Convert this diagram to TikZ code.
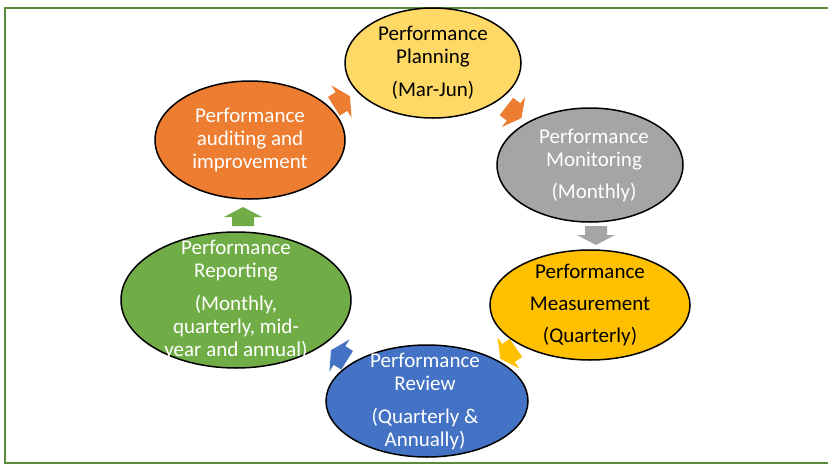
\documentclass[tikz,border=0pt]{standalone}
\usepackage{fontspec}
\setmainfont{Carlito}
\usetikzlibrary{calc,shapes.geometric}
\definecolor{cYellow}{HTML}{FFD966}
\definecolor{cGray}{HTML}{A5A5A5}
\definecolor{cGold}{HTML}{FFC000}
\definecolor{cBlue}{HTML}{4472C4}
\definecolor{cGreen}{HTML}{70AD47}
\definecolor{cOrange}{HTML}{ED7D31}
\definecolor{frameC}{HTML}{5A8A3C}
\begin{document}
\begin{tikzpicture}[x=1pt,y=-1pt,
  stage/.style={ellipse, draw=black, line width=1.5pt, inner sep=0pt},
  stagetext/.style={inner sep=0pt, align=center, font=\fontsize{21}{23}\selectfont},
  pics/cycarrow/.style={code={\fill[#1] (-9,-11) -- (0,-11) -- (0,-19) -- (10,0) -- (0,19) -- (0,11) -- (-9,11) -- cycle;}}
]
\useasboundingbox (0,0) rectangle (828,464);
\fill[white] (0,0) rectangle (828,464);
\draw[frameC, line width=2pt] (840,7.5) -- (4.5,7.5) -- (4.5,462.5) -- (840,462.5);

\node[stage, fill=cYellow, minimum width=176, minimum height=110] (plan) at (433,63) {};
\node[stagetext] (plant) at (plan) {Performance\\Planning\\[10pt](Mar-Jun)};
\node[stage, fill=cGray, minimum width=186, minimum height=114] (mon) at (590,165) {};
\node[stagetext, text=white] (mont) at ($(mon)+(4,0)$) {Performance\\Monitoring\\[9pt](Monthly)};
\node[stage, fill=cGold, minimum width=200, minimum height=110] (meas) at (590,305) {};
\node[stagetext] (meast) at (meas) {Performance\\[9pt]Measurement\\[9pt](Quarterly)};
\node[stage, fill=cBlue, minimum width=202, minimum height=112] (rev) at (427,401) {};
\node[stagetext, text=white] (revt) at ($(rev)+(-2,0)$) {Performance\\Review\\[10pt](Quarterly \&\\Annually)};
\node[stage, fill=cGreen, minimum width=230, minimum height=136] (rep) at (236,300) {};
\node[stagetext, text=white] (rept) at (rep) {Performance\\Reporting\\[10pt](Monthly,\\quarterly, mid-\\year and annual)};
\node[stage, fill=cOrange, minimum width=190, minimum height=118] (aud) at (250,140) {};
\node[stagetext, text=white] (audt) at (aud) {Performance\\auditing and\\improvement};

\pic[rotate=32] at ($(aud)!0.5!(plan)$) {cycarrow=cOrange};
\pic[rotate=-38] at ($(plan)!0.5!(mon)+(2,-2)$) {cycarrow=cOrange};
\pic[rotate=-90] at ($(mon)!0.5!(meas)+(6,0)$) {cycarrow=cGray};
\pic[rotate=-145] at ($(meas)!0.5!(rev)$) {cycarrow=cGold};
\pic[rotate=148] at ($(rev)!0.5!(rep)+(8,5)$) {cycarrow=cBlue};
\pic[rotate=90] at ($(rep)!0.5!(aud)+(0,-3)$) {cycarrow=cGreen};
\end{tikzpicture}
\end{document}
